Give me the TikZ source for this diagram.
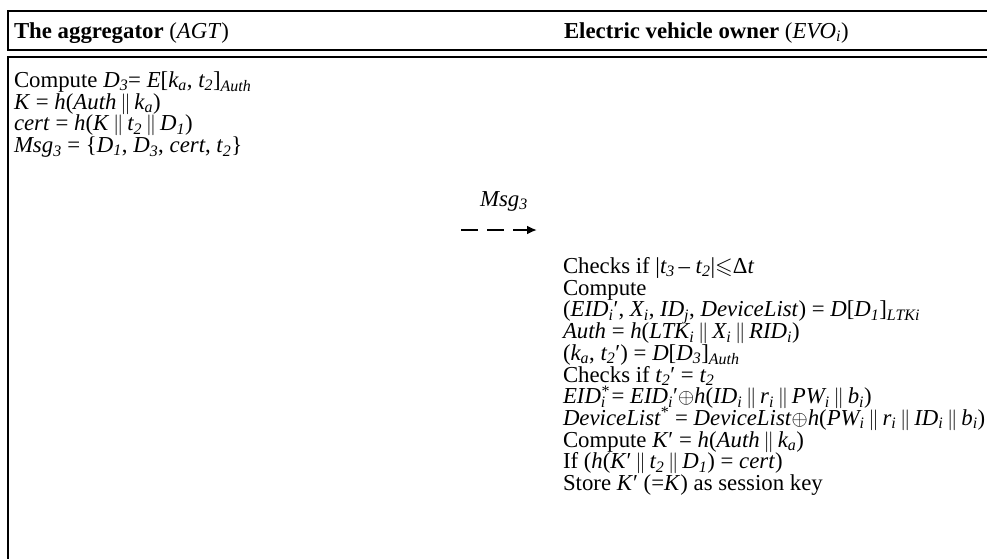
\documentclass[tikz,border=0pt]{standalone}
\usepackage{amsmath,amssymb}
\usepackage{fontspec}
\setmainfont{Liberation Serif}
\usepackage{xcolor}
\usepackage{tikz}
\usetikzlibrary{arrows.meta,positioning,calc}
\newcommand{\V}[1]{\textit{#1}}
\newcommand{\lo}[1]{\textsubscript{#1}}
\newcommand{\losup}[2]{\rlap{\textsuperscript{#2}}\textsubscript{#1}}
\newcommand{\cc}{\,$\Vert$\,}

\begin{document}
\begin{tikzpicture}[x=1pt,y=-1pt,line width=2pt,
  font=\fontsize{22.8}{21.7}\selectfont,
  txt/.style={anchor=base west, inner sep=0pt}]
\useasboundingbox (0,0) rectangle (987,559);
\def\gap{21.7}
\draw (7.5,11) rectangle (1000,50);
\draw (7.5,57) rectangle (1000,575);
\node[txt] (agthead) at (13,38.5) {\textbf{The aggregator} (\V{AGT})};
\node[txt] (evohead) at (563,38.5) {\textbf{Electric vehicle owner} (\V{EVO\lo{i}})};
\foreach \n/\lab in {
0/{Compute \V{D\lo{3}}= \V{E}[\V{k\lo{a}}, \V{t\lo{2}}]\lo{\V{Auth}}},
1/{\V{K} = \V{h}(\V{Auth}\cc\V{k\lo{a}})},
2/{\V{cert} = \V{h}(\V{K}\cc\V{t\lo{2}}\cc\V{D\lo{1}})},
3/{\V{Msg\lo{3}} = \{\V{D\lo{1}}, \V{D\lo{3}}, \V{cert}, \V{t\lo{2}}\}}}{
  \node[txt] (agt\n) at (13,{87.5+\n*\gap}) {\lab};
}
\node[anchor=base] (msglab) at (504,206) {\V{Msg\lo{3}}};
\coordinate (msgfrom) at (461,230);
\coordinate (msgto) at (537,230);
\draw[-{Latex[length=10pt,width=9pt]}, dash pattern=on 17pt off 9pt] (msgfrom) -- (msgto);
\foreach \n/\lab in {
0/{Checks if |\V{t\lo{3}}\,– \V{t\lo{2}}|$\leqslant$Δ\V{t}},
1/{Compute},
2/{(\V{EID\lo{i}}′, \V{X\lo{i}}, \V{ID\lo{j}}, \V{DeviceList}) = \V{D}[\V{D\lo{1}}]\lo{\V{LTKi}}},
3/{\V{Auth} = \V{h}(\V{LTK\lo{i}}\cc\V{X\lo{i}}\cc\V{RID\lo{i}})},
4/{(\V{k\lo{a}}, \V{t\lo{2}}′) = \V{D}[\V{D\lo{3}}]\lo{\V{Auth}}},
5/{Checks if \V{t\lo{2}}′ = \V{t\lo{2}}},
6/{\V{EID\losup{i}{*}} = \V{EID\lo{i}}′$\oplus$\V{h}(\V{ID\lo{i}}\cc\V{r\lo{i}}\cc\V{PW\lo{i}}\cc\V{b\lo{i}})},
7/{\V{DeviceList}\textsuperscript{*} = \V{DeviceList}$\oplus$\V{h}(\V{PW\lo{i}}\cc\V{r\lo{i}}\cc\V{ID\lo{i}}\cc\V{b\lo{i}})},
8/{Compute \V{K}′ = \V{h}(\V{Auth}\cc\V{k\lo{a}})},
9/{If (\V{h}(\V{K}′\cc\V{t\lo{2}}\cc\V{D\lo{1}}) = \V{cert})},
10/{Store \V{K}′ (=\V{K}) as session key}}{
  \node[txt] (evo\n) at (562,{273.5+\n*\gap}) {\lab};
}
\end{tikzpicture}
\end{document}
